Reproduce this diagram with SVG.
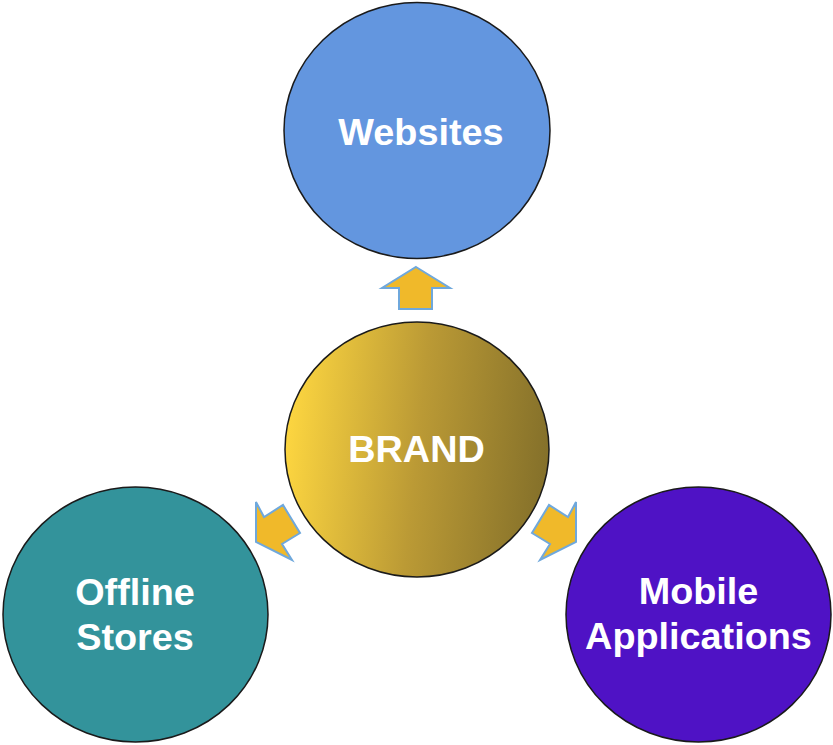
<svg xmlns="http://www.w3.org/2000/svg" width="833" height="745" viewBox="0 0 833 745">
<defs>
<linearGradient id="brandGrad" x1="0" y1="0.45" x2="1" y2="0.55">
<stop offset="0" stop-color="#FDD640"/>
<stop offset="0.5" stop-color="#BB9A35"/>
<stop offset="1" stop-color="#84702A"/>
</linearGradient>
</defs>
<style>
.node ellipse{stroke:#1a1a1a;stroke-width:1.5}
.lbl{font-family:"Liberation Sans",Arial,sans-serif;font-weight:bold;font-size:37.8px;fill:#ffffff;text-anchor:middle}
.arrow{fill:#F0B92A;stroke:#6FA8DC;stroke-width:2;stroke-linejoin:miter}
</style>
<rect width="833" height="745" fill="#ffffff"/>
<g id="connectors">
<polygon class="arrow" points="416,267 450,288 432,288 432,309 399,309 399,288 382,288"/>
<polygon class="arrow" points="256,502 264,517 283,505 300,533 282,544 292,560 256,542"/>
<polygon class="arrow" points="576,502 568,517 549,505 532,533 550,544 540,560 576,542"/>
</g>
<g id="websites" class="node">
<ellipse cx="417" cy="130.5" rx="133" ry="128" fill="#6396DF"/>
<text class="lbl" x="421" y="145">Websites</text>
</g>
<g id="brand" class="node">
<ellipse cx="417" cy="449.5" rx="132" ry="127.5" fill="url(#brandGrad)"/>
<text class="lbl" x="416.5" y="462">BRAND</text>
</g>
<g id="offline" class="node">
<ellipse cx="135.5" cy="614.5" rx="132.5" ry="127.5" fill="#33939B"/>
<text class="lbl" x="135" y="605">Offline</text>
<text class="lbl" x="135" y="650">Stores</text>
</g>
<g id="mobile" class="node">
<ellipse cx="698.5" cy="614.5" rx="132.5" ry="127.5" fill="#4F12C5"/>
<text class="lbl" x="698.5" y="604">Mobile</text>
<text class="lbl" x="698.5" y="649">Applications</text>
</g>
</svg>
